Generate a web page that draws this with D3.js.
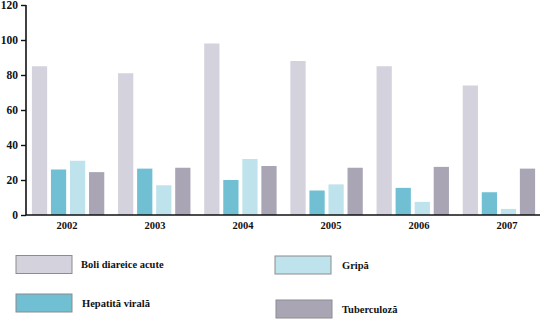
<!DOCTYPE html>
<html>
<head>
<meta charset="utf-8">
<script src="https://cdn.jsdelivr.net/npm/d3@7"></script>
<style>
  html, body { margin: 0; padding: 0; background: #fff; }
  svg { display: block; }
</style>
</head>
<body>
<svg id="chart" width="547" height="327"></svg>
<script>
// Years on the category axis
const years = ["2002", "2003", "2004", "2005", "2006", "2007"];

// Disease series (one value per year)
const seriesNames = ["Boli diareice acute", "Hepatită virală", "Gripă", "Tuberculoză"];
const boliDiareice = [85, 81, 98, 88, 85, 74];
const hepatitaVirala = [26, 26.5, 20, 14, 15.5, 13];
const gripa = [31, 17, 32, 17.5, 7.5, 3.5];
const tuberculoza = [24.5, 27, 28, 27, 27.5, 26.5];

// Y axis tick values
const yTicks = [0, 20, 40, 60, 80, 100, 120];

const seriesValues = [boliDiareice, hepatitaVirala, gripa, tuberculoza];
const colors = ["#d4d2dc", "#70bfd3", "#bee3ec", "#a9a5b5"];
const FONT = '"Liberation Serif", "Times New Roman", Times, "DejaVu Serif", serif';

const svg = d3.select("#chart");

const y = d3.scaleLinear().domain([0, 120]).range([215, 5]);

const x0 = d3.scaleBand().domain(years).range([25, 542])
  .paddingInner(0.16).paddingOuter(0.08);
const x1 = d3.scaleBand().domain(d3.range(seriesNames.length))
  .range([0, x0.bandwidth()]).paddingInner(0.2);

// Year labels sit on their own band, spread slightly wider than the bar groups
const xLabel = d3.scaleBand().domain(years).range([23, 551]);

// Bars
const groups = svg.append("g").selectAll("g")
  .data(years)
  .join("g")
  .attr("transform", d => `translate(${x0(d)},0)`);

groups.selectAll("rect")
  .data((yr, i) => seriesValues.map((vals, s) => ({ s, v: vals[i] })))
  .join("rect")
  .attr("x", d => x1(d.s))
  .attr("width", x1.bandwidth())
  .attr("y", d => y(d.v))
  .attr("height", d => y(0) - y(d.v))
  .attr("fill", d => colors[d.s]);

// Y axis
const yAxis = svg.append("g")
  .attr("transform", "translate(26,0)")
  .call(d3.axisLeft(y).tickValues(yTicks).tickSize(5).tickPadding(3));
yAxis.select(".domain").attr("stroke", "#111").attr("stroke-width", 1.6)
  .attr("d", `M0,${y(120)}V${y(0)}`);
yAxis.selectAll(".tick line").attr("stroke", "#111").attr("stroke-width", 1.4);
yAxis.selectAll(".tick text")
  .style("font-family", FONT).style("font-weight", "bold")
  .style("font-size", "11.5px").attr("fill", "#111");

// X axis line
svg.append("line")
  .attr("x1", 26).attr("x2", 540)
  .attr("y1", y(0)).attr("y2", y(0))
  .attr("stroke", "#111").attr("stroke-width", 1.6);

// Year labels
const xAxis = svg.append("g")
  .attr("transform", `translate(0,${y(0)})`)
  .call(d3.axisBottom(xLabel).tickSize(0).tickPadding(7));
xAxis.select(".domain").remove();
xAxis.selectAll(".tick text")
  .style("font-family", FONT).style("font-weight", "bold")
  .style("font-size", "10.5px").attr("fill", "#111");

// Legend
const legendItems = [
  { s: 0, x: 16, y: 255.5, tx: 65 },
  { s: 2, x: 275, y: 256, tx: 67 },
  { s: 1, x: 16, y: 294, tx: 66 },
  { s: 3, x: 276, y: 300, tx: 66 }
];
const legend = svg.append("g").selectAll("g")
  .data(legendItems)
  .join("g")
  .attr("transform", d => `translate(${d.x},${d.y})`);
legend.append("rect")
  .attr("width", 56).attr("height", 18)
  .attr("fill", d => colors[d.s])
  .attr("stroke", "#8c8c8c").attr("stroke-width", 1);
legend.append("text")
  .attr("x", d => d.tx)
  .attr("y", 9)
  .attr("dy", "0.35em")
  .style("font-family", FONT).style("font-weight", "bold")
  .style("font-size", "10.5px").attr("fill", "#111")
  .text(d => seriesNames[d.s]);
</script>
</body>
</html>
